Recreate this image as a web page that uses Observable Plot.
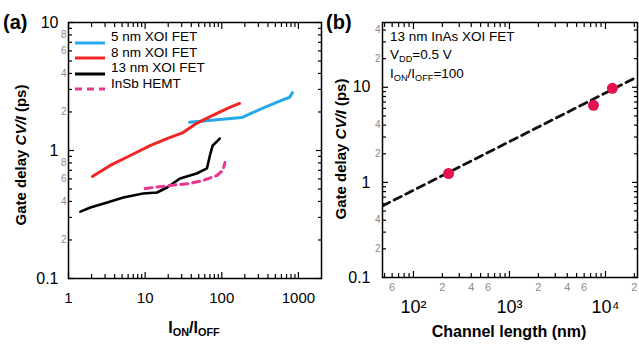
<!DOCTYPE html>
<html><head><meta charset="utf-8">
<script src="https://cdn.jsdelivr.net/npm/d3@7"></script>
<script src="https://cdn.jsdelivr.net/npm/@observablehq/plot@0.6"></script>
<style>
body{margin:0;background:#fff;overflow:hidden;}
#wrap{position:relative;width:639px;height:346px;font-family:"Liberation Sans",Arial,sans-serif;overflow:hidden;background:#fff;}
.p{position:absolute;top:0;}
.t{position:absolute;white-space:nowrap;color:#000;line-height:1;}
.t sub{font-size:0.68em;vertical-align:-0.3em;}
</style></head><body><div id="wrap"></div>
<script>
// ---------- Panel (a) data ----------
const series5nmX = [38, 182, 361, 697, 765, 835];
const series5nmY = [1.66, 1.81, 2.17, 2.55, 2.6, 2.84];
const series8nmX = [2.05, 3.5, 6.4, 11.6, 19.3, 31.2, 47, 76, 127, 171];
const series8nmY = [0.627, 0.764, 0.914, 1.09, 1.24, 1.38, 1.63, 1.88, 2.17, 2.33];
const series13nmX = [1.43, 1.93, 3.2, 5.2, 9.4, 14.3, 19.3, 28.5, 47, 64, 70, 76, 94];
const series13nmY = [0.333, 0.359, 0.393, 0.43, 0.461, 0.47, 0.514, 0.604, 0.661, 0.724, 0.914, 1.09, 1.24];
const hemtX = [10, 21, 38, 57, 86, 103, 110];
const hemtY = [0.505, 0.533, 0.552, 0.583, 0.638, 0.698, 0.805];
const legendNames = ["5 nm XOI FET", "8 nm XOI FET", "13 nm XOI FET", "InSb HEMT"];
const seriesColors = ["#27a8ea", "#ef2626", "#000000", "#e8368c"];

// ---------- Panel (b) data ----------
const lengthNm = [232, 7500, 11800];
const delayPs = [1.24, 6.46, 9.75];
const fitX = [47.6, 21550];
const fitY = [0.565, 12.9];
const annotB = ["13 nm InAs XOI FET", "V<sub>DD</sub>=0.5 V", "I<sub>ON</sub>/I<sub>OFF</sub>=100"];

// ---------- tick values and labels ----------
const aXMajor = [1, 10, 100, 1000];
const aXMajorText = ["1", "10", "100", "1000"];
const aYMajor = [0.1, 1, 10];
const aYMajorText = ["0.1", "1", "10"];
const aYMinorLabeled = [0.2, 0.4, 0.6, 0.8, 2, 4, 6, 8];
const aYMinorText = ["2", "4", "6", "8", "2", "4", "6", "8"];
const bXMajor = [100, 1000, 10000];
const bXMajorText = ["10²", "10³", "10⁴"];
const bXMinorLabeled = [60, 200, 400, 600, 2000, 4000, 6000, 20000];
const bXMinorText = ["6", "2", "4", "6", "2", "4", "6", "2"];
const bYMajor = [0.1, 1, 10];
const bYMajorText = ["0.1", "1", "10"];
const bYMinorLabeled = [0.2, 0.4, 2, 4, 20, 40];
const bYMinorText = ["2", "4", "2", "4", "2", "4"];

const zip = (xs, ys) => xs.map((x, i) => ({x, y: ys[i]}));
const minorTicks = (decades, lo, hi) =>
  decades.flatMap(d => [2,3,4,5,6,7,8,9].map(k => +(k * d).toPrecision(3))).filter(v => v > lo && v < hi);

// inward tick marks on all four sides (axis marks with negative tick size, no labels)
function frameTicks(xMaj, xMin, yMaj, yMin) {
  const marks = [];
  const st = {stroke: "#000", strokeWidth: 1.2, tickFormat: () => "", label: null};
  for (const [vals, len] of [[xMaj, 6], [xMin, 4]]) {
    marks.push(Plot.axisX(vals, {anchor: "bottom", tickSize: -len, ...st}));
    marks.push(Plot.axisX(vals, {anchor: "top", tickSize: -len, ...st}));
  }
  for (const [vals, len] of [[yMaj, 6], [yMin, 4]]) {
    marks.push(Plot.axisY(vals, {anchor: "left", tickSize: -len, ...st}));
    marks.push(Plot.axisY(vals, {anchor: "right", tickSize: -len, ...st}));
  }
  return marks;
}
function xLabels(vals, texts, dy, fontSize, fill) {
  return Plot.text(vals, {x: d => d, text: texts, frameAnchor: "bottom", dy, fontSize, fill, lineAnchor: "middle"});
}
function yLabels(vals, texts, dx, fontSize, fill) {
  return Plot.text(vals, {y: d => d, text: texts, frameAnchor: "left", textAnchor: "end", dx, fontSize, fill});
}

const wrap = document.getElementById("wrap");
const commonStyle = {fontFamily: "'Liberation Sans', Arial, sans-serif", background: "transparent", overflow: "visible", color: "#000"};

// ---------- Panel (a) ----------
{
  const W = 330, H = 346, mL = 68, mR = 9, mT = 22, mB = 68;
  const xDom = [1, 2000], yDom = [0.1, 10];
  const lines = [
    [series5nmX, series5nmY, seriesColors[0], null, 3],
    [series8nmX, series8nmY, seriesColors[1], null, 3],
    [series13nmX, series13nmY, seriesColors[2], null, 2.6],
    [hemtX, hemtY, seriesColors[3], "7,5", 3]
  ];
  const chart = Plot.plot({
    width: W, height: H, marginLeft: mL, marginRight: mR, marginTop: mT, marginBottom: mB,
    style: commonStyle,
    x: {type: "log", domain: xDom},
    y: {type: "log", domain: yDom},
    marks: [
      ...frameTicks(aXMajor, minorTicks([1,10,100,1000], 1, 2000), aYMajor, minorTicks([0.1,1], 0.1, 10)),
      xLabels(aXMajor, aXMajorText, 20, 15, "#000"),
      yLabels(aYMajor, aYMajorText, -10, 16, "#000"),
      yLabels(aYMinorLabeled, aYMinorText, -2, 10, "#8a8a8a"),
      ...lines.map(([xs, ys, c, dash, w]) => Plot.line(zip(xs, ys), {x: "x", y: "y", stroke: c, strokeWidth: w, strokeDasharray: dash, clip: true})),
      Plot.frame({stroke: "#000", strokeWidth: 1.5})
    ]
  });
  chart.classList.add("p");
  chart.style.left = "0px";
  wrap.appendChild(chart);
}

// ---------- Panel (b) ----------
{
  const W = 319, H = 346, mL = 62, mR = 2, mT = 22, mB = 69;
  const xDom = [47.6, 21550], yDom = [0.1, 48];
  const chart = Plot.plot({
    width: W, height: H, marginLeft: mL, marginRight: mR, marginTop: mT, marginBottom: mB,
    style: commonStyle,
    x: {type: "log", domain: xDom},
    y: {type: "log", domain: yDom},
    marks: [
      ...frameTicks(bXMajor, minorTicks([10,100,1000,10000], 47.6, 21550), bYMajor, minorTicks([0.1,1,10], 0.1, 48)),
      xLabels(bXMinorLabeled, bXMinorText, 10, 11, "#8a8a8a"),
      xLabels(bXMajor, bXMajorText, 30, 18, "#000"),
      yLabels(bYMajor, bYMajorText, -12, 16, "#000"),
      yLabels(bYMinorLabeled, bYMinorText, -2, 10, "#8a8a8a"),
      Plot.line(zip(fitX, fitY), {x: "x", y: "y", stroke: "#111", strokeWidth: 2.8, strokeDasharray: "8,5", clip: true}),
      Plot.dot(zip(lengthNm, delayPs), {x: "x", y: "y", r: 5.5, fill: "#e5134f", stroke: "none"}),
      Plot.frame({stroke: "#000", strokeWidth: 1.5})
    ]
  });
  chart.classList.add("p");
  chart.style.left = "320px";
  wrap.appendChild(chart);
}

// ---------- text: panel labels, axis titles, legend, annotations ----------
function addText(html, left, top, css) {
  const d = document.createElement("div");
  d.className = "t";
  d.innerHTML = html;
  d.style.left = left + "px";
  d.style.top = top + "px";
  if (css) Object.assign(d.style, css);
  wrap.appendChild(d);
  return d;
}
addText("(a)", 3, 12, {fontSize: "20px", fontWeight: "bold"});
addText("(b)", 326, 12, {fontSize: "20px", fontWeight: "bold"});

const yTitle = "Gate delay <i>CV/I</i> (ps)";
addText(yTitle, 20, 155, {fontSize: "15px", fontWeight: "bold", transform: "translate(-50%,-50%) rotate(-90deg)"});
addText(yTitle, 340, 149, {fontSize: "15px", fontWeight: "bold", transform: "translate(-50%,-50%) rotate(-90deg)"});
addText("I<sub>ON</sub>/I<sub>OFF</sub>", 194, 329, {fontSize: "16px", fontWeight: "bold", transform: "translate(-50%,-50%)"});
addText("Channel length (nm)", 509, 332, {fontSize: "16px", fontWeight: "bold", transform: "translate(-50%,-50%)"});

// legend (panel a)
const legendY = [37, 52.5, 68, 83.5];
legendNames.forEach((name, i) => {
  const dash = i === 3 ? 'stroke-dasharray="7,5"' : "";
  addText(`<svg width="32" height="6" style="vertical-align:middle"><line x1="1" y1="3" x2="31" y2="3" stroke="${seriesColors[i]}" stroke-width="3" ${dash}/></svg>`, 74, legendY[i] - 3);
  addText(name, 111, legendY[i], {fontSize: "13.5px", transform: "translateY(-50%)"});
});

// annotations (panel b)
const annotY = [37, 56, 75];
annotB.forEach((s, i) => addText(s, 390, annotY[i], {fontSize: "13.5px", transform: "translateY(-50%)"}));
</script></body></html>
